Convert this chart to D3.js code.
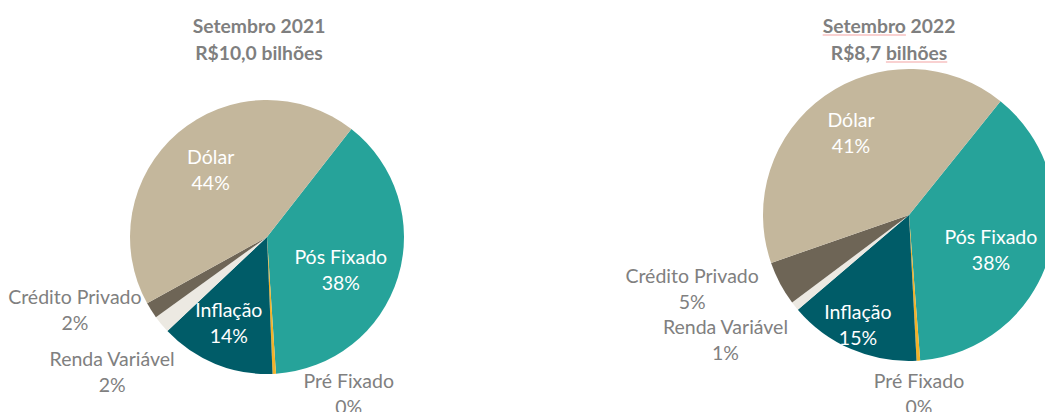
<!DOCTYPE html>
<html><head><meta charset="utf-8">
<script src="https://cdn.jsdelivr.net/npm/d3@7"></script>
<style>body{margin:0;background:#fff;}svg{display:block;font-family:Lato,"Open Sans",sans-serif;}</style>
</head><body><svg id="c" width="1045" height="412"></svg>
<script>
// ---- data ----
const categories = ["Pós Fixado","Pré Fixado","Inflação","Renda Variável","Crédito Privado","Dólar"];
const values2021 = [38.4, 0.4, 13.6, 2.1, 1.9, 43.6];
const values2022 = [38.0, 0.4, 14.6, 1.0, 4.9, 41.1];
const titles2021 = ["Setembro 2021","R$10,0 bilhões"];
const titles2022 = ["Setembro 2022","R$8,7 bilhões"];

// ---- style / layout ----
const colors = ["#26A39A","#F2B229","#005C68","#ECE9E2","#6E6556","#C4B79C"];
const insideLabel = [true,false,true,false,false,true];
const svg = d3.select("#c");
const deg = Math.PI/180;

const charts = [
  {values: values2021, titles: titles2021, cx: 267, cy: 237, r: 137, start: 38, titleX: 259, underline:null,
   lab: [[0.59,7],[1.29,-24.5],[0.69,1.7],[1.50,-1.5],[1.50,11.6],[0.64,0.5]]},
  {values: values2022, titles: titles2022, cx: 909, cy: 215, r: 146, start: 38.8, titleX: 889,
   underline:[["Setembro"],["bilhões"]],
   lab: [[0.61,5.8],[1.23,0.5],[0.83,1.6],[1.52,4.4],[1.57,9.1],[0.69,0]]}
];

charts.forEach(ch => {
  const data = categories.map((c,i)=>({cat:c, v:ch.values[i], i}));
  const pie = d3.pie().value(d=>d.v).sort(null)
     .startAngle(ch.start*deg).endAngle((ch.start+360)*deg);
  const arc = d3.arc().innerRadius(0).outerRadius(ch.r);
  const g = svg.append("g").attr("transform",`translate(${ch.cx},${ch.cy})`);
  const arcs = pie(data);
  g.selectAll("path").data(arcs).join("path")
    .attr("d",arc).attr("fill",d=>colors[d.data.i]);

  const total = d3.sum(ch.values);
  arcs.forEach(a => {
    const [rf, da] = ch.lab[a.data.i];
    const ang = (a.startAngle + a.endAngle)/2 + da*deg;
    const x = Math.sin(ang)*rf*ch.r, y = -Math.cos(ang)*rf*ch.r;
    const t = g.append("text").attr("text-anchor","middle")
      .attr("font-size",19.5)
      .attr("fill", insideLabel[a.data.i] ? "#FFFFFF" : "#808080");
    t.append("tspan").attr("x",x).attr("y",y-13+7).text(a.data.cat);
    t.append("tspan").attr("x",x).attr("y",y+13+7).text(Math.round(a.data.v/total*100)+"%");
  });

  const tg = svg.append("g");
  ch.titles.forEach((s,k)=>{
    const y = 33+k*27;
    const t = tg.append("text").attr("x",ch.titleX).attr("y",y)
      .attr("text-anchor","middle").attr("font-size",19.3).attr("font-weight","bold")
      .attr("fill","#7F7F7F").text(s);
    if (ch.underline) {
      const word = ch.underline[k][0];
      const full = t.node().getComputedTextLength();
      const idx = s.indexOf(word);
      const x0 = ch.titleX - full/2 + (idx>0 ? t.node().getSubStringLength(0, idx) : 0);
      const w = t.node().getSubStringLength(idx, word.length);
      tg.append("line").attr("x1",x0).attr("x2",x0+w).attr("y1",y+2).attr("y2",y+2)
        .attr("stroke","#F4A3A3").attr("stroke-width",1.2);
    }
  });
});
</script></body></html>
